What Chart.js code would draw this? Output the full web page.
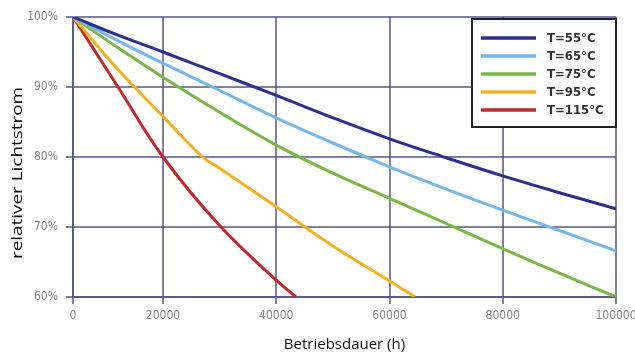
<!DOCTYPE html>
<html>
<head>
<meta charset="utf-8">
<script src="https://cdn.jsdelivr.net/npm/chart.js@4/dist/chart.umd.min.js"></script>
<style>
  html, body { margin: 0; padding: 0; background: #fff; }
  #wrap { width: 635px; height: 356px; position: relative; }
</style>
</head>
<body>
<div id="wrap"><canvas id="c" width="635" height="356"></canvas></div>
<script>
// ---- data ----
const hours = [0, 10000, 20000, 30000, 40000, 50000, 60000, 70000, 80000, 90000, 100000];
const seriesLabels = ['T=55°C', 'T=65°C', 'T=75°C', 'T=95°C', 'T=115°C'];
const t55  = [100, 97.4, 95.0, 91.9, 88.8, 85.6, 82.6, 79.9, 77.3, 74.9, 72.6];
const t65  = [100, 96.6, 93.4, 89.5, 85.6, 82.0, 78.6, 75.4, 72.4, 69.5, 66.6];
const t75  = [100, 95.6, 91.4, 86.4, 81.7, 77.7, 74.1, 70.5, 66.9, 63.4, 60.0];
const t95Hours = [0, 10000, 20000, 27000, 30000, 40000, 50000, 60000, 64500];
const t95  = [100, 92.5, 85.8, 80.0, 78.4, 72.9, 67.3, 62.3, 60.0];
const t115Hours = [0, 10000, 20000, 30000, 40000, 43500];
const t115 = [100, 90.0, 80.0, 70.2, 62.4, 60.0];
const xTicks = [0, 20000, 40000, 60000, 80000, 100000];
const yTicks = [60, 70, 80, 90, 100];
const colors = ['#2d2f8e', '#74b8ea', '#79b646', '#f5b022', '#c1282d'];

function pts(xs, ys) { return xs.map((x, i) => ({ x: x, y: ys[i] })); }

// x axis of the reference is unevenly spaced: first interval narrower
class BentScale extends Chart.LinearScale {
  getPixelForValue(value) {
    if (value === null || value === undefined) return NaN;
    const brk = this.options.bentBreak, f1 = this.options.bentFrac;
    let d;
    if (value <= brk) d = (value - this.min) / (brk - this.min) * f1;
    else d = f1 + (value - brk) / (this.max - brk) * (1 - f1);
    return this.getPixelForDecimal(d);
  }
  getValueForPixel(pixel) {
    const brk = this.options.bentBreak, f1 = this.options.bentFrac;
    const d = this.getDecimalForPixel(pixel);
    if (d <= f1) return this.min + d / f1 * (brk - this.min);
    return brk + (d - f1) / (1 - f1) * (this.max - brk);
  }
}
BentScale.id = 'bent';
BentScale.defaults = Chart.LinearScale.defaults;
Chart.register(BentScale);

const gridColor = 'rgba(78,78,125,0.72)';

const boxLegend = {
  id: 'boxLegend',
  afterDraw(chart) {
    const ctx = chart.ctx;
    const x0 = 472, y0 = 19, w = 144, h = 108;
    ctx.save();
    ctx.fillStyle = '#fff';
    ctx.fillRect(x0, y0, w, h);
    ctx.strokeStyle = '#222';
    ctx.lineWidth = 2;
    ctx.strokeRect(x0, y0, w, h);
    ctx.font = 'bold 13px "DejaVu Sans Condensed", "DejaVu Sans", sans-serif';
    ctx.textBaseline = 'middle';
    ctx.textAlign = 'left';
    chart.data.datasets.forEach((ds, i) => {
      const y = 38 + i * 18;
      ctx.strokeStyle = ds.borderColor;
      ctx.lineWidth = 3.5;
      ctx.beginPath();
      ctx.moveTo(481, y);
      ctx.lineTo(536, y);
      ctx.stroke();
      ctx.fillStyle = '#333';
      ctx.fillText(ds.label, 547, y + 0.5);
    });
    // y axis title (stretched along its length like the reference)
    ctx.translate(18, 173);
    ctx.rotate(-Math.PI / 2);
    ctx.scale(1.26, 1);
    ctx.textAlign = 'center';
    ctx.fillStyle = '#111';
    ctx.font = '15px "Open Sans", "DejaVu Sans", sans-serif';
    ctx.fillText('relativer Lichtstrom', 0, 0);
    ctx.restore();
  }
};

const dsBase = { borderWidth: 3, pointRadius: 0, fill: false, tension: 0.4 };

new Chart(document.getElementById('c'), {
  type: 'line',
  data: {
    datasets: [
      Object.assign({ label: seriesLabels[0], data: pts(hours, t55),  borderColor: colors[0] }, dsBase),
      Object.assign({ label: seriesLabels[1], data: pts(hours, t65),  borderColor: colors[1] }, dsBase),
      Object.assign({ label: seriesLabels[2], data: pts(hours, t75),  borderColor: colors[2] }, dsBase),
      Object.assign({ label: seriesLabels[3], data: pts(t95Hours, t95),  borderColor: colors[3] }, dsBase),
      Object.assign({ label: seriesLabels[4], data: pts(t115Hours, t115), borderColor: colors[4] }, dsBase)
    ]
  },
  options: {
    responsive: false,
    animation: false,
    layout: { padding: { top: 17, right: 19, left: 0, bottom: 0 } },
    plugins: { legend: { display: false }, tooltip: { enabled: false } },
    scales: {
      x: {
        type: 'bent',
        bentBreak: 20000,
        bentFrac: 90 / 543,
        min: 0, max: 100000,
        afterBuildTicks: (s) => { s.ticks = xTicks.map(v => ({ value: v })); },
        afterFit: (s) => { s.height = 59; s.paddingLeft = 0; s.paddingRight = 0; },
        grid: { color: gridColor, lineWidth: 2, tickLength: 7, drawTicks: true },
        border: { color: gridColor, width: 2 },
        ticks: {
          color: '#858585', padding: 5, maxRotation: 0, autoSkip: false,
          font: { family: '"DejaVu Sans Condensed", "DejaVu Sans", sans-serif', size: 12 },
          callback: (v) => String(v)
        },
        title: {
          display: true, text: 'Betriebsdauer (h)', color: '#111',
          font: { family: '"Open Sans", "DejaVu Sans", sans-serif', size: 15 },
          padding: { top: 0, bottom: 2 }
        }
      },
      y: {
        min: 60, max: 100,
        afterBuildTicks: (s) => { s.ticks = yTicks.map(v => ({ value: v })); },
        afterFit: (s) => { s.width = 73; s.paddingTop = 0; s.paddingBottom = 0; },
        grid: { color: gridColor, lineWidth: 2, tickLength: 7, drawTicks: true },
        border: { color: gridColor, width: 2 },
        ticks: {
          color: '#858585', padding: 8,
          font: { family: '"DejaVu Sans Condensed", "DejaVu Sans", sans-serif', size: 12 },
          callback: (v) => v + '%'
        }
      }
    }
  },
  plugins: [boxLegend]
});
</script>
</body>
</html>
